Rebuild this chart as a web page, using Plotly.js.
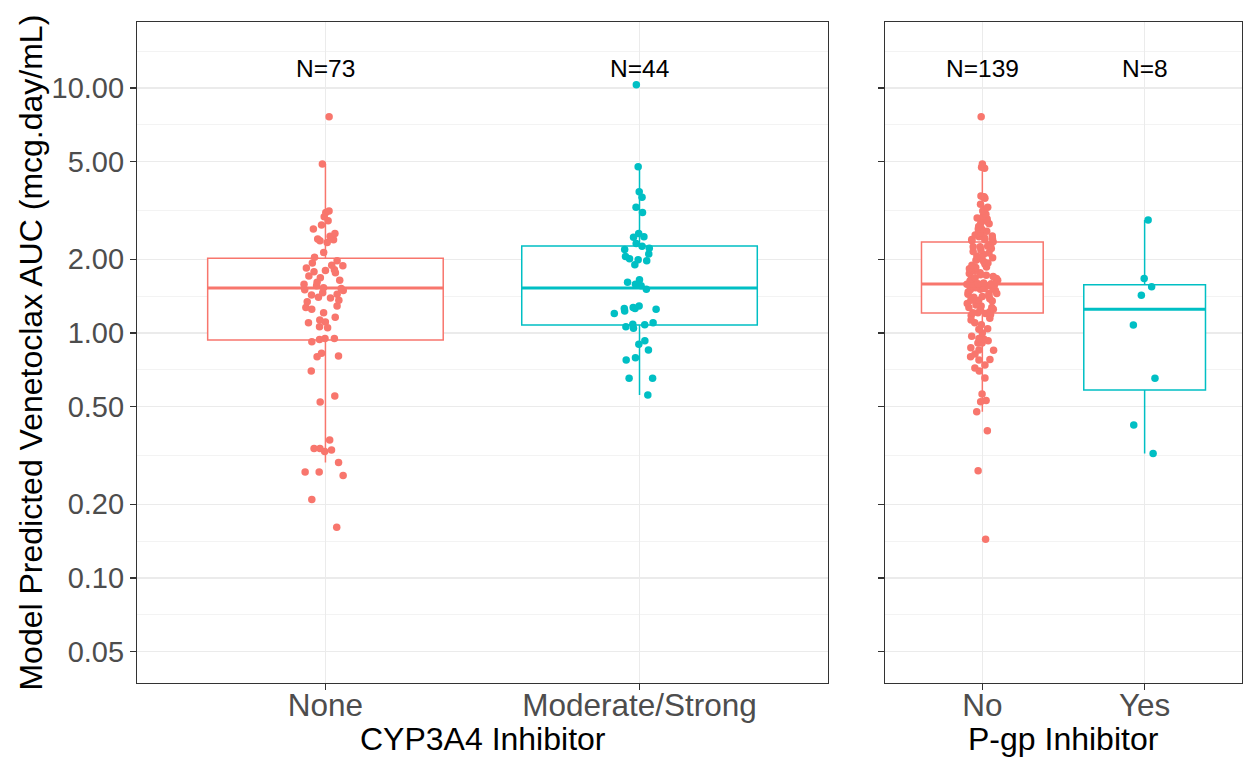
<!DOCTYPE html>
<html><head><meta charset="utf-8">
<script src="https://cdn.plot.ly/plotly-3.0.1.min.js"></script>
<style>html,body{margin:0;padding:0;background:#fff}#chart{width:1243px;height:759px}</style>
</head><body><div id="chart"></div>
<script>
// ---------- data ----------
const cypCategories = ['None', 'Moderate/Strong'];
const pgpCategories = ['No', 'Yes'];

const aucNone = [7.64, 4.89, 3.15, 3.10, 2.98, 2.87, 2.76, 2.66, 2.55, 2.48, 2.42, 2.40, 2.38, 2.34, 2.13, 2.04,
  1.97, 1.93, 1.89, 1.88, 1.84, 1.81, 1.80, 1.78, 1.76, 1.71, 1.68, 1.64, 1.61, 1.58, 1.56,
  1.53, 1.52, 1.50, 1.49, 1.46, 1.44, 1.43, 1.40, 1.39, 1.36, 1.34, 1.29, 1.27, 1.25, 1.21, 1.16, 1.13, 1.11, 1.10, 1.06, 1.05,
  0.95, 0.95, 0.94, 0.92, 0.826, 0.806, 0.80, 0.70, 0.553, 0.523, 0.366, 0.338, 0.338, 0.333, 0.328, 0.296, 0.271, 0.271, 0.262, 0.209, 0.161];

const aucModStrong = [10.3, 4.77, 3.77, 3.58, 3.26, 3.10, 2.55, 2.47, 2.46, 2.32, 2.26, 2.22, 2.19, 2.10, 2.05, 2.01, 1.99, 1.97, 1.90,
  1.65, 1.61, 1.58, 1.56, 1.51, 1.29, 1.27, 1.26, 1.26, 1.25, 1.23, 1.20, 1.10, 1.085, 1.08, 1.06, 1.045,
  0.93, 0.899, 0.852, 0.793, 0.776, 0.653, 0.653, 0.558];

const aucPgpNo = [7.64, 4.89, 4.75, 4.70, 3.62, 3.60, 3.58, 3.55, 3.35, 3.26, 3.20, 3.15, 3.05, 3.00, 2.95, 2.92, 2.88, 2.85, 2.80, 2.79,
  2.72, 2.66, 2.66, 2.60, 2.57, 2.55, 2.51, 2.49, 2.47, 2.45, 2.43, 2.41, 2.40, 2.38, 2.36,
  2.30, 2.26, 2.25, 2.25, 2.21, 2.18, 2.15, 2.12, 2.09, 2.06, 2.03, 2.01, 1.98, 1.96, 1.93, 1.91, 1.89, 1.86, 1.85, 1.83, 1.81,
  1.80, 1.78, 1.76, 1.75, 1.73, 1.72, 1.70, 1.68, 1.67, 1.66, 1.64, 1.63, 1.62,
  1.60, 1.59, 1.59, 1.58, 1.58, 1.57, 1.56, 1.55, 1.53, 1.53, 1.52, 1.51, 1.50, 1.49, 1.47, 1.45, 1.45, 1.44, 1.42, 1.41, 1.40,
  1.38, 1.36, 1.36, 1.35, 1.33, 1.32, 1.30, 1.29, 1.27, 1.27, 1.25, 1.24, 1.22, 1.21, 1.21,
  1.20, 1.19, 1.18, 1.15, 1.13, 1.10, 1.08, 1.04, 1.035, 1.00, 0.97, 0.95, 0.945, 0.93, 0.91, 0.91, 0.87, 0.852, 0.85,
  0.82, 0.80, 0.78, 0.776, 0.74, 0.72, 0.70, 0.655, 0.563, 0.53, 0.524, 0.477, 0.399, 0.274, 0.144];

const aucPgpYes = [2.89, 1.67, 1.546, 1.425, 1.078, 0.653, 0.421, 0.322];

// box summaries in order None, Moderate/Strong, No, Yes
const boxQ1     = [0.936, 1.078, 1.207, 0.585];
const boxMedian = [1.527, 1.527, 1.585, 1.249];
const boxQ3     = [2.02, 2.265, 2.35, 1.575];
const boxLower  = [0.296, 0.558, 0.477, 0.322];
const boxUpper  = [4.89, 4.77, 4.89, 2.89];

const yTickVals = [0.05, 0.1, 0.2, 0.5, 1, 2, 5, 10];
const yTickText = ['0.05', '0.10', '0.20', '0.50', '1.00', '2.00', '5.00', '10.00'];
const nLabelY = 12;

// ---------- styling ----------
const salmon = '#F8766D', teal = '#00BFC4';
const FONT = 'Arial, "Liberation Sans", sans-serif';

const groups = [
  {cat: cypCategories[0], vals: aucNone,      color: salmon, xa: 'x',  ya: 'y',  jit: 0.22},
  {cat: cypCategories[1], vals: aucModStrong, color: teal,   xa: 'x',  ya: 'y',  jit: 0.22},
  {cat: pgpCategories[0], vals: aucPgpNo,     color: salmon, xa: 'x2', ya: 'y2', jit: 0.27},
  {cat: pgpCategories[1], vals: aucPgpYes,    color: teal,   xa: 'x2', ya: 'y2', jit: 0.28}
];

const traces = [];
groups.forEach((g, i) => {
  // box with whiskers
  traces.push({
    type: 'box', x: [g.cat], q1: [boxQ1[i]], median: [boxMedian[i]], q3: [boxQ3[i]],
    lowerfence: [boxLower[i]], upperfence: [boxUpper[i]],
    xaxis: g.xa, yaxis: g.ya, width: 0.75, whiskerwidth: 0, boxpoints: false,
    line: {color: g.color, width: 1.5}, fillcolor: 'white', hoverinfo: 'skip'
  });
  // thicker median line
  traces.push({
    type: 'box', x: [g.cat], q1: [boxMedian[i]], median: [boxMedian[i]], q3: [boxMedian[i]],
    lowerfence: [boxMedian[i]], upperfence: [boxMedian[i]],
    xaxis: g.xa, yaxis: g.ya, width: 0.75, whiskerwidth: 0, boxpoints: false,
    line: {color: g.color, width: 3}, fillcolor: 'rgba(0,0,0,0)', hoverinfo: 'skip'
  });
});
groups.forEach((g) => {
  // jittered points
  traces.push({
    type: 'box', x: g.vals.map(() => g.cat), y: g.vals,
    xaxis: g.xa, yaxis: g.ya, width: 0.75,
    boxpoints: 'all', jitter: g.jit, pointpos: 0,
    line: {color: 'rgba(0,0,0,0)', width: 0}, fillcolor: 'rgba(0,0,0,0)',
    marker: {color: g.color, size: 7.5, opacity: 1, line: {width: 0}},
    hoveron: 'points'
  });
});

const logRange = [-1.4286, 1.2694];
const extBreaks = yTickVals.concat([yTickVals[yTickVals.length - 1] * 2]);
const minorVals = [];
for (let i = 0; i < extBreaks.length - 1; i++) minorVals.push(Math.sqrt(extBreaks[i] * extBreaks[i + 1]));

const gridC = '#EBEBEB', lineC = '#333333', tickFontC = '#4D4D4D';
const xCommon = {
  type: 'category', range: [-0.6, 1.6], showgrid: true, gridcolor: gridC, gridwidth: 1.1,
  showline: true, mirror: true, linecolor: lineC, linewidth: 1.1,
  ticks: 'outside', ticklen: 6, tickcolor: lineC, tickwidth: 1.1, ticklabelstandoff: -12,
  tickfont: {family: FONT, size: 31.5, color: tickFontC}, zeroline: false, fixedrange: true
};
const yCommon = {
  type: 'log', range: logRange, tickmode: 'array', tickvals: yTickVals, ticktext: yTickText,
  showgrid: true, gridcolor: gridC, gridwidth: 1.1,
  minor: {tickmode: 'array', tickvals: minorVals, showgrid: true, gridcolor: gridC, gridwidth: 0.6, ticks: ''},
  showline: true, mirror: true, linecolor: lineC, linewidth: 1.1,
  ticks: 'outside', ticklen: 6, tickcolor: lineC, tickwidth: 1.1,
  tickfont: {family: FONT, size: 29, color: tickFontC}, zeroline: false, fixedrange: true
};

const annotations = groups.map(g => ({
  xref: g.xa, yref: g.ya, x: g.cat, y: Math.log10(nLabelY), text: 'N=' + g.vals.length,
  showarrow: false, font: {family: FONT, size: 24.5, color: '#000'}
}));
annotations.push(
  {xref: 'paper', yref: 'paper', x: 0.3127, y: -0.0845, text: 'CYP3A4 Inhibitor', showarrow: false,
   font: {family: FONT, size: 32, color: '#000'}, xanchor: 'center', yanchor: 'middle'},
  {xref: 'paper', yref: 'paper', x: 0.8385, y: -0.0845, text: 'P-gp Inhibitor', showarrow: false,
   font: {family: FONT, size: 32, color: '#000'}, xanchor: 'center', yanchor: 'middle'},
  {xref: 'paper', yref: 'paper', x: -0.0968, y: 0.5, text: 'Model Predicted Venetoclax AUC (mcg.day/mL)',
   textangle: -90, showarrow: false, font: {family: FONT, size: 32, color: '#000'}, xanchor: 'center', yanchor: 'middle'}
);

const layout = {
  width: 1243, height: 759,
  margin: {l: 137, r: 1, t: 22, b: 76, pad: 0},
  paper_bgcolor: 'white', plot_bgcolor: 'white',
  showlegend: false, boxmode: 'overlay',
  font: {family: FONT},
  xaxis: Object.assign({}, xCommon, {domain: [0, 0.6253], anchor: 'y'}),
  xaxis2: Object.assign({}, xCommon, {domain: [0.6769, 1], anchor: 'y2'}),
  yaxis: Object.assign({}, yCommon, {anchor: 'x'}),
  yaxis2: Object.assign({}, yCommon, {anchor: 'x2', matches: 'y', showticklabels: false}),
  annotations: annotations
};

Plotly.newPlot('chart', traces, layout, {displayModeBar: false, staticPlot: true});
</script>
</body></html>
